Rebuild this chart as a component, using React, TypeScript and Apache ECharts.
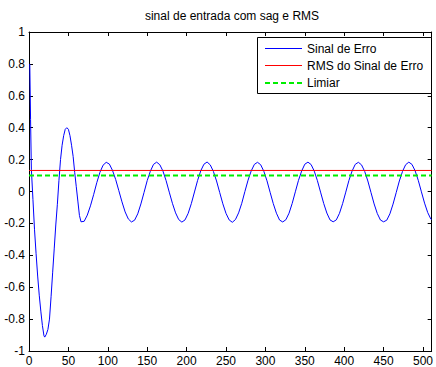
import React, { useEffect, useRef } from "react";
import * as echarts from "echarts";

const titleText = "sinal de entrada com sag e RMS";
const seriesNames = ["Sinal de Erro", "RMS do Sinal de Erro", "Limiar"];

const xMin = 0;
const xMax = 511;
const xInterval = 50;
const yMin = -1;
const yMax = 1;
const yInterval = 0.2;

// sample positions (n) of the error signal
const sampleIndex = [
  1, 2, 3, 5, 7, 9, 11, 13, 15, 17, 19, 20, 22, 24, 26, 28, 30, 32, 34, 36, 38, 40, 42, 44, 46, 48, 50, 52, 54, 56, 58, 60, 62, 64,
  66, 70, 74, 78, 82, 86, 90, 94, 98, 102, 106, 110, 114, 118, 122, 126,
  130, 134, 138, 142, 146, 150, 154, 158, 162, 166, 170, 174, 178, 182, 186, 190,
  194, 198, 202, 206, 210, 214, 218, 222, 226, 230, 234, 238, 242, 246, 250, 254,
  258, 262, 266, 270, 274, 278, 282, 286, 290, 294, 298, 302, 306, 310, 314, 318,
  322, 326, 330, 334, 338, 342, 346, 350, 354, 358, 362, 366, 370, 374, 378, 382,
  386, 390, 394, 398, 402, 406, 410, 414, 418, 422, 426, 430, 434, 438, 442, 446,
  450, 454, 458, 462, 466, 470, 474, 478, 482, 486, 490, 494, 498, 502, 506, 510, 511,
];

// error signal values
const errorSignal = [
  0.8, 0.45, 0.14, -0.05, -0.24, -0.39, -0.53, -0.65, -0.75, -0.84, -0.905, -0.913, -0.895, -0.865, -0.8, -0.66, -0.51, -0.36, -0.21, -0.08, 0.07, 0.2, 0.29, 0.35, 0.39, 0.4, 0.39, 0.35, 0.29, 0.22, 0.12, 0.03, -0.06, -0.15,
  -0.19, -0.187, -0.148, -0.09, -0.02, 0.055, 0.12, 0.165, 0.183, 0.172, 0.132, 0.075, 0.005, -0.065, -0.128, -0.172,
  -0.191, -0.18, -0.14, -0.078, -0.006, 0.068, 0.127, 0.17, 0.184, 0.168, 0.128, 0.068, -0.004, -0.074, -0.134, -0.176,
  -0.192, -0.178, -0.137, -0.076, -0.003, 0.07, 0.13, 0.171, 0.185, 0.167, 0.126, 0.066, -0.006, -0.077, -0.137, -0.178,
  -0.193, -0.176, -0.134, -0.074, 0.0, 0.071, 0.129, 0.17, 0.183, 0.168, 0.127, 0.067, -0.005, -0.076, -0.136, -0.179,
  -0.191, -0.177, -0.136, -0.075, -0.002, 0.07, 0.128, 0.171, 0.184, 0.169, 0.128, 0.068, -0.004, -0.075, -0.135, -0.178,
  -0.19, -0.178, -0.137, -0.076, -0.004, 0.069, 0.128, 0.17, 0.183, 0.167, 0.126, 0.066, -0.006, -0.078, -0.138, -0.179,
  -0.19, -0.18, -0.14, -0.079, -0.007, 0.066, 0.126, 0.168, 0.184, 0.17, 0.13, 0.07, -0.002, -0.073, -0.132, -0.173, -0.176,
];

const rmsValue = 0.132;
const limiarValue = 0.1;

const FONT = "'Liberation Sans', Arial, Helvetica, sans-serif";

export default function App() {
  const ref = useRef<HTMLDivElement>(null);

  useEffect(() => {
    if (!ref.current) return;
    const chart = echarts.init(ref.current, null, { renderer: "svg" });

    const axisLine = { show: true, onZero: false, lineStyle: { color: "#000", width: 1 } };
    const axisTick = { show: true, inside: true, length: 4, lineStyle: { color: "#000", width: 1 } };

    const xBase = {
      type: "value",
      min: xMin,
      max: xMax,
      interval: xInterval,
      axisLine,
      axisTick,
      splitLine: { show: false },
    };
    const yBase = {
      type: "value",
      min: yMin,
      max: yMax,
      interval: yInterval,
      axisLine,
      axisTick,
      splitLine: { show: false },
    };

    const blue = "#0000ff";
    const red = "#ff0000";
    const green = "#00ee00";

    const legendStyles = [
      { color: blue, width: 1, dash: null as number[] | null },
      { color: red, width: 1, dash: null as number[] | null },
      { color: green, width: 2, dash: [5, 3] },
    ];
    const legendRowY = [48.5, 65.5, 83];
    const legendItems: any[] = [
      {
        type: "rect",
        shape: { x: 257.5, y: 37.5, width: 174, height: 56 },
        style: { fill: "#fff", stroke: "#000", lineWidth: 1 },
        z: 10,
      },
    ];
    seriesNames.forEach((name, i) => {
      const s = legendStyles[i];
      legendItems.push({
        type: "line",
        shape: { x1: 265, y1: legendRowY[i], x2: 302, y2: legendRowY[i] },
        style: { stroke: s.color, lineWidth: s.width, lineDash: s.dash || undefined },
        z: 11,
      });
      legendItems.push({
        type: "text",
        x: 307,
        y: legendRowY[i],
        style: {
          text: name,
          fontSize: 12,
          fontFamily: FONT,
          fill: "#000",
          textAlign: "left",
          textVerticalAlign: "middle",
        },
        z: 11,
      });
    });

    chart.setOption({
      animation: false,
      backgroundColor: "#fff",
      textStyle: { fontFamily: FONT },
      grid: { left: 29, right: 1, top: 32, bottom: 15, containLabel: false },
      graphic: [
        {
          type: "text",
          x: 232,
          y: 16,
          style: {
            text: titleText,
            fontSize: 12,
            fontFamily: FONT,
            fill: "#000",
            textAlign: "center",
            textVerticalAlign: "middle",
          },
        },
        ...legendItems,
      ],
      xAxis: [
        {
          ...xBase,
          position: "bottom",
          axisLabel: {
            show: true,
            color: "#000",
            fontSize: 12,
            fontFamily: FONT,
            margin: 4,
            showMaxLabel: false,
            formatter: (v: number) => (v % xInterval === 0 ? String(v) : ""),
          },
        },
        { ...xBase, position: "top", axisLabel: { show: false } },
      ],
      yAxis: [
        {
          ...yBase,
          position: "left",
          axisLabel: { show: true, color: "#000", fontSize: 12, fontFamily: FONT, margin: 4 },
        },
        { ...yBase, position: "right", axisLabel: { show: false } },
      ],
      series: [
        {
          name: seriesNames[0],
          type: "line",
          xAxisIndex: 0,
          yAxisIndex: 0,
          symbol: "none",
          showSymbol: false,
          color: blue,
          lineStyle: { color: blue, width: 1 },
          data: sampleIndex.map((n, i) => [n, errorSignal[i]]),
        },
        {
          name: seriesNames[1],
          type: "line",
          xAxisIndex: 0,
          yAxisIndex: 0,
          symbol: "none",
          showSymbol: false,
          color: red,
          lineStyle: { color: red, width: 1 },
          data: [
            [xMin, rmsValue],
            [xMax, rmsValue],
          ],
        },
        {
          name: seriesNames[2],
          type: "line",
          xAxisIndex: 0,
          yAxisIndex: 0,
          symbol: "none",
          showSymbol: false,
          color: green,
          lineStyle: { color: green, width: 2, type: [5, 3] },
          data: [
            [xMin, limiarValue],
            [xMax, limiarValue],
          ],
        },
      ],
    });

    return () => chart.dispose();
  }, []);

  return (
    <div
      ref={ref}
      style={{ position: "fixed", left: 0, top: 0, width: 436, height: 367, background: "#fff" }}
    />
  );
}
